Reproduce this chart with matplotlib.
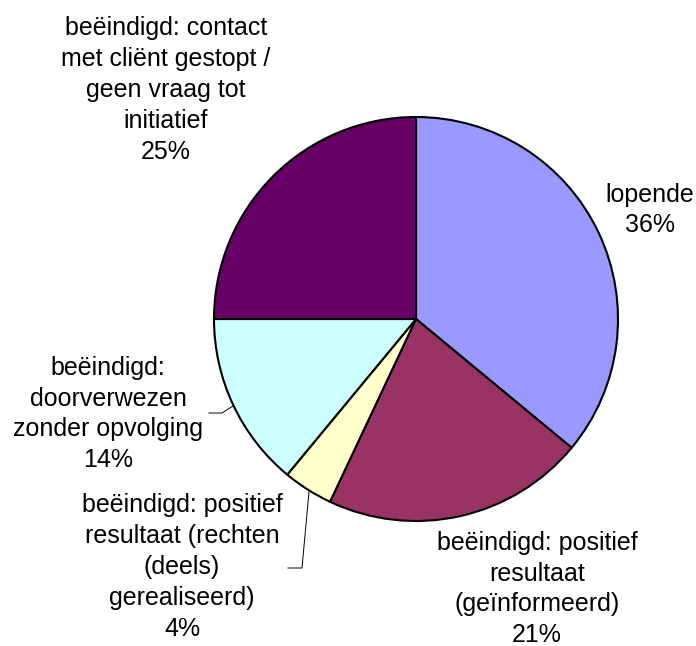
import matplotlib.pyplot as plt

# slice values (percent), clockwise from 12 o'clock
labels = ['lopende',
          'beëindigd: positief\nresultaat\n(geïnformeerd)',
          'beëindigd: positief\nresultaat (rechten\n(deels)\ngerealiseerd)',
          'beëindigd:\ndoorverwezen\nzonder opvolging',
          'beëindigd: contact\nmet cliënt gestopt /\ngeen vraag tot\ninitiatief']
values = [36, 21, 4, 14, 25]
colors = ['#9999FF', '#993366', '#FFFFCC', '#CCFFFF', '#660066']

W, H = 696, 646
fig = plt.figure(figsize=(W / 100, H / 100), dpi=100)
ax = fig.add_axes([0, 0, 1, 1])

# pixel -> data (y up)
def py(y):
    return H - y

ax.pie(values, colors=colors, startangle=90, counterclock=False,
       center=(416, py(319)), radius=202,
       wedgeprops=dict(edgecolor='black', linewidth=1.5))
ax.set_xlim(0, W)
ax.set_ylim(0, H)
ax.set_aspect('equal')
ax.axis('off')

# label block centres in pixels
label_pos = [(650, 210), (537, 589), (182, 567), (108, 414), (166, 90)]

for lab, v, (x, y) in zip(labels, values, label_pos):
    txt = lab + '\n' + f'{v:.0f}%'
    ax.text(x, py(y), txt, va='center', ha='center',
            family='Liberation Sans', fontsize=18, linespacing=1.36)

# leader lines
ax.plot([209, 222, 233], [py(413), py(413), py(406)], color='black', lw=0.7)
ax.plot([288, 302, 309], [py(568), py(568), py(492)], color='black', lw=0.7)

fig.savefig('out.png', dpi=100)
